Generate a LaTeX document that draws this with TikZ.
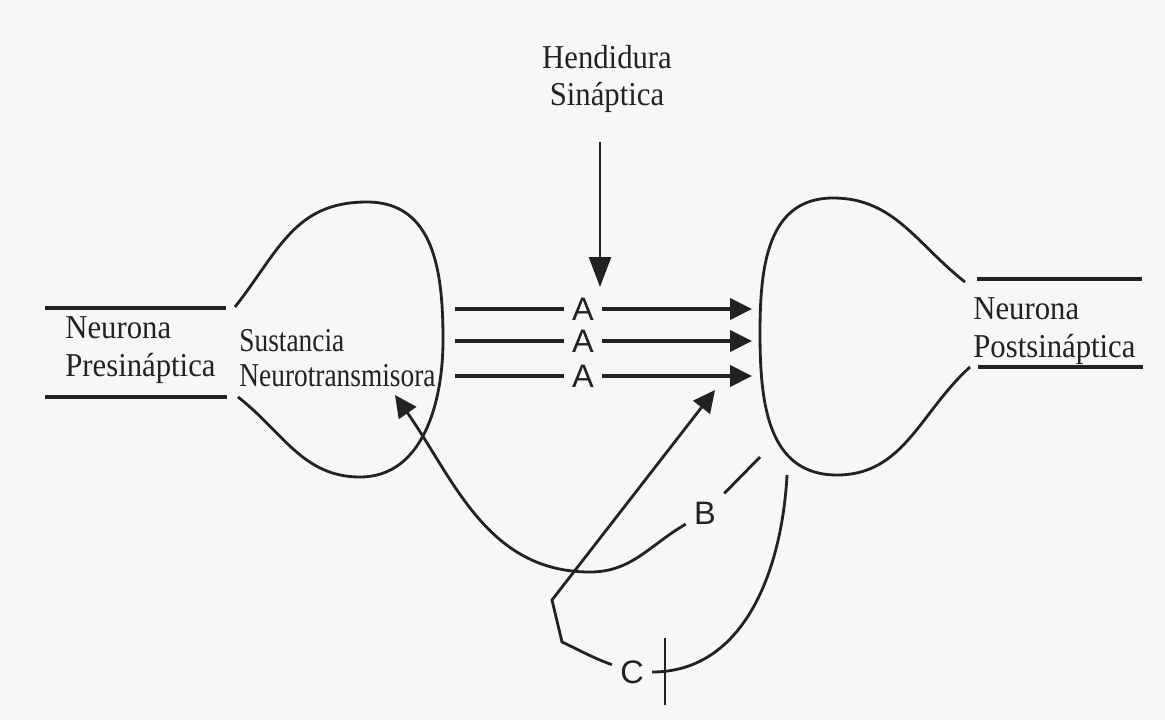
\documentclass[tikz,border=0pt]{standalone}
\usepackage{fontspec}
\setmainfont[FakeStretch=0.92]{Liberation Serif}
\setsansfont{Liberation Sans}
\newfontfamily\narrowserif[FakeStretch=0.82]{Liberation Serif}
\usetikzlibrary{arrows.meta}
\definecolor{ink}{HTML}{222222}
\definecolor{paper}{HTML}{F7F7F7}

\begin{document}
\begin{tikzpicture}[x=0.02cm,y=0.02cm,line width=1.6pt,color=ink,
    axon/.style={line width=2.3pt},
    arr/.style={-{Triangle[length=0.44cm,width=0.42cm]}},
    txt/.style={font=\fontsize{19}{21.5}\selectfont,align=left,inner sep=0pt},
    letter/.style={font=\sffamily\fontsize{18.5}{18.5}\selectfont,inner sep=4pt}]
  \fill[paper] (0,0) rectangle (1165,-720);
  \useasboundingbox (0,0) rectangle (1165,-720);
  %
  % neuronas
  \draw[axon] (45,-308) -- (226,-308);
  \draw[axon] (45,-397) -- (227,-397);
  \draw (235,-307) to[out=52,in=180,looseness=1.1] (367,-202) to[out=0,in=90,looseness=1.1] (443,-340)
    to[out=-90,in=0] (360,-477) to[out=180,in=-38] (238,-397);
  \draw[axon] (977,-279) -- (1142,-279);
  \draw[axon] (978,-367) -- (1143,-367);
  \draw (965,-282) to[out=142,in=0] (833,-198) to[out=180,in=90,looseness=1.1] (760,-333)
    to[out=-90,in=180,looseness=1.1] (837,-475) to[out=0,in=-138] (970,-367);
  %
  \node[txt,anchor=west] (pre) at (64,-350) {Neurona\\Presináptica};
  \node[txt,font=\narrowserif\fontsize{19}{20}\selectfont,anchor=west] (nt) at (238,-358) {Sustancia\\Neurotransmisora};
  \node[txt,anchor=west] (post) at (972,-331) {Neurona\\Postsináptica};
  \node[txt,align=center] (hend) at (607,-79) {Hendidura\\Sináptica};
  %
  % hendidura
  \coordinate (cleft) at (600,-287);
  \draw[-{Triangle[length=0.6cm,width=0.44cm]}] ([yshift=-0.55cm]hend.south -| cleft) -- (cleft);
  \foreach \y [count=\i] in {309,341,376} {
    \coordinate (s\i) at (455,-\y);
    \node[letter] (a\i) at (583,-\y) {A};
    \coordinate (e\i) at (752,-\y);
    \draw[axon] (s\i) -- (a\i);
    \draw[axon,arr] (a\i) -- (e\i);
  }
  %
  % recaptacion
  \coordinate (b0) at (760,-457);
  \node[letter] (b) at (705,-513) {B};
  \coordinate (btip) at (395,-395);
  \draw (b0) -- (b);
  \draw[arr] (b) to[out=-150,in=0] (590,-572) to[out=180,in=-55] (btip);
  %
  % bloqueo
  \coordinate (c0) at (787,-475);
  \node[letter] (c) at (632,-672) {C};
  \coordinate (ctip) at (715,-390);
  \draw (c0) to[out=-93,in=0] (c);
  \draw[arr] (c) to[out=160,in=-25] (562,-642) -- (552,-600) -- (ctip);
  \draw (665,-638) -- (665,-705);
\end{tikzpicture}
\end{document}
